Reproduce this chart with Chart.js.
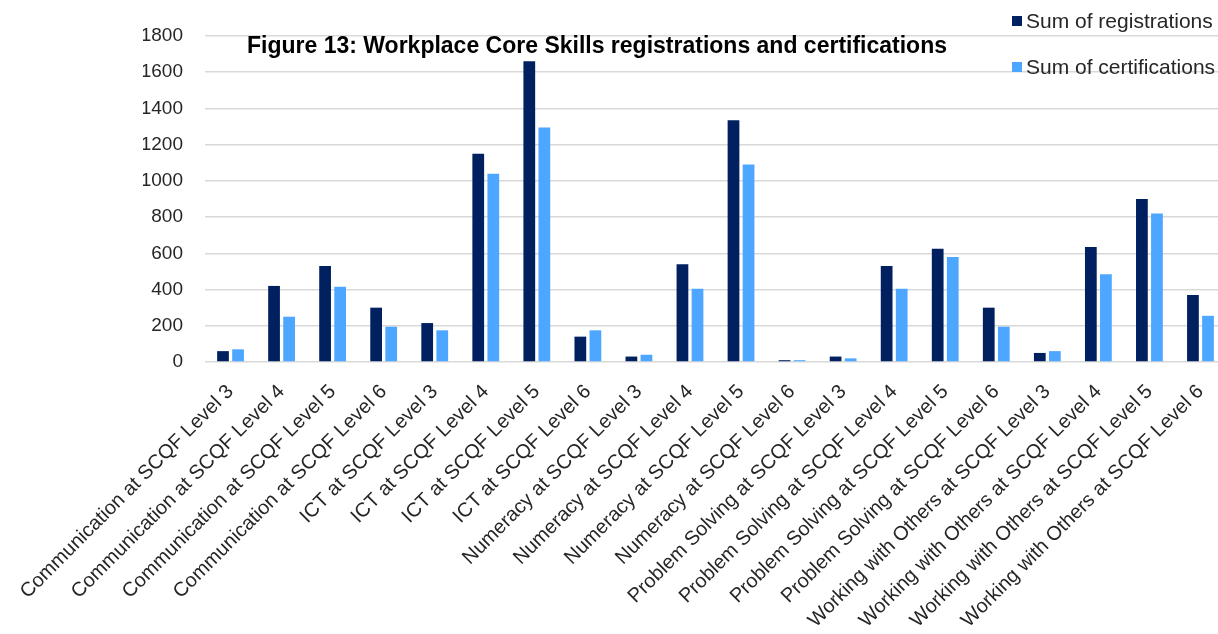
<!DOCTYPE html>
<html>
<head>
<meta charset="utf-8">
<script src="https://cdn.jsdelivr.net/npm/chart.js@4.4.1/dist/chart.umd.min.js"></script>
<style>
  html, body { margin: 0; padding: 0; background: #fff; overflow: hidden; }
  #wrap { width: 1226px; height: 634px; position: relative; }
</style>
</head>
<body>
<div id="wrap"><canvas id="chart"></canvas></div>
<script>
const categories = [
  'Communication at SCQF Level 3', 'Communication at SCQF Level 4', 'Communication at SCQF Level 5', 'Communication at SCQF Level 6',
  'ICT at SCQF Level 3', 'ICT at SCQF Level 4', 'ICT at SCQF Level 5', 'ICT at SCQF Level 6',
  'Numeracy at SCQF Level 3', 'Numeracy at SCQF Level 4', 'Numeracy at SCQF Level 5', 'Numeracy at SCQF Level 6',
  'Problem Solving at SCQF Level 3', 'Problem Solving at SCQF Level 4', 'Problem Solving at SCQF Level 5', 'Problem Solving at SCQF Level 6',
  'Working with Others at SCQF Level 3', 'Working with Others at SCQF Level 4', 'Working with Others at SCQF Level 5', 'Working with Others at SCQF Level 6'
];
const registrations = [60, 420, 530, 300, 215, 1150, 1660, 140, 30, 540, 1335, 10, 30, 530, 625, 300, 50, 635, 900, 370];
const certifications = [70, 250, 415, 195, 175, 1040, 1295, 175, 40, 405, 1090, 10, 20, 405, 580, 195, 60, 485, 820, 255];
const yTicks = [0, 200, 400, 600, 800, 1000, 1200, 1400, 1600, 1800];
const chartTitle = 'Figure 13: Workplace Core Skills registrations and certifications';

const FONT = '"Liberation Sans", Arial, sans-serif';

// title and legend sit on top of the plot, like in the original
const overlay = {
  id: 'overlay',
  afterDraw(chart) {
    const ctx = chart.ctx;
    const a = chart.chartArea;
    ctx.save();
    ctx.font = 'bold 23px ' + FONT;
    ctx.fillStyle = '#000';
    ctx.textAlign = 'center';
    ctx.textBaseline = 'middle';
    ctx.fillText(chartTitle, a.left + 392, a.top + 11);

    ctx.font = '21px ' + FONT;
    ctx.textAlign = 'left';
    chart.data.datasets.forEach((ds, i) => {
      const y = 21 + i * 46;
      ctx.fillStyle = ds.backgroundColor;
      ctx.fillRect(1012, y - 5, 10, 10);
      ctx.fillStyle = '#262626';
      ctx.fillText(ds.label, 1026, y + 1);
    });
    ctx.restore();
  }
};

new Chart(document.getElementById('chart'), {
  type: 'bar',
  data: {
    labels: categories,
    datasets: [
      { label: 'Sum of registrations', data: registrations, backgroundColor: '#002060' },
      { label: 'Sum of certifications', data: certifications, backgroundColor: '#4da6ff' }
    ]
  },
  options: {
    responsive: true,
    maintainAspectRatio: false,
    animation: false,
    devicePixelRatio: 1,
    categoryPercentage: 0.59,
    barPercentage: 0.78,
    layout: { padding: { left: 143, top: 36, right: 0, bottom: 0 } },
    plugins: {
      legend: { display: false },
      title: { display: false },
      tooltip: { enabled: false }
    },
    scales: {
      x: {
        grid: { display: false },
        border: { display: false },
        ticks: {
          autoSkip: false,
          maxRotation: 45,
          minRotation: 45,
          padding: 10,
          color: '#262626',
          font: { family: FONT, size: 20 }
        },
        afterFit(s) { s.height = 272; s.paddingLeft = 0; s.paddingRight = 0; }
      },
      y: {
        min: 0,
        max: 1800,
        afterBuildTicks(s) { s.ticks = yTicks.map(v => ({ value: v })); },
        grid: { color: '#d9d9d9', lineWidth: 1.5, drawTicks: false },
        border: { display: false },
        ticks: {
          padding: 22,
          color: '#262626',
          font: { family: FONT, size: 19 },
          callback: v => String(v)
        },
        afterFit(s) { s.width = 62; s.paddingTop = 0; s.paddingBottom = 0; }
      }
    }
  },
  plugins: [overlay]
});
</script>
</body>
</html>
